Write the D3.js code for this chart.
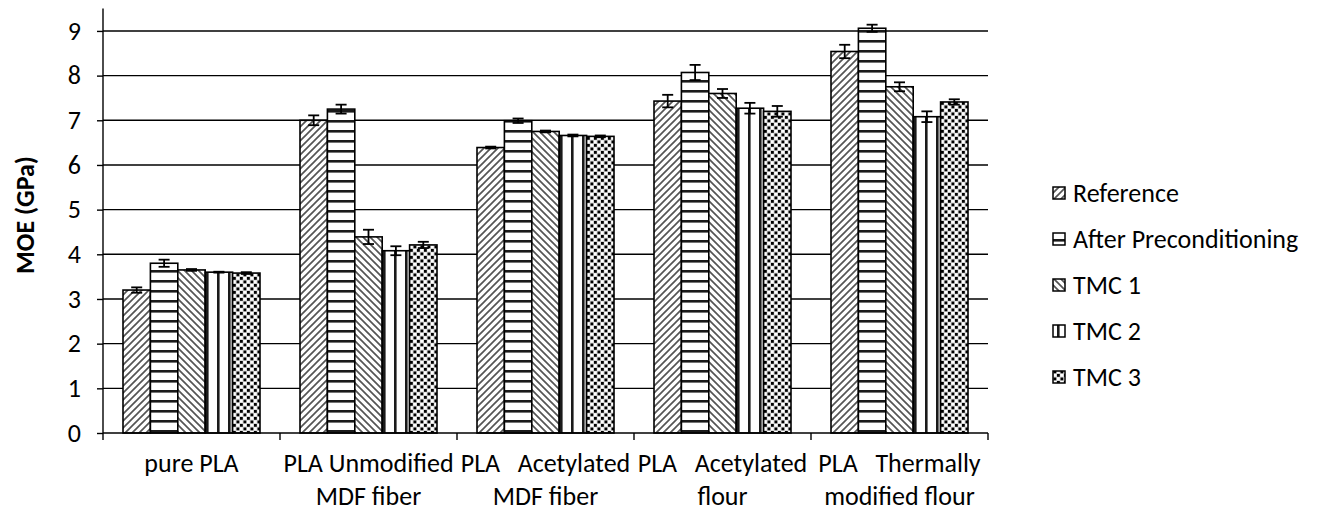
<!DOCTYPE html>
<html lang="en">
<head>
<meta charset="UTF-8" />
<title>MOE bar chart</title>
<script src="https://cdn.jsdelivr.net/npm/d3@7"></script>
<style>
  body { margin: 0; background: #fff; }
  text { font-family: Carlito, Calibri, Lato, sans-serif; fill: #000; }
</style>
</head>
<body>
<div id="chart"></div>
<script>
// chart values
var categories = ["pure PLA", "PLA Unmodified MDF fiber", "PLA Acetylated MDF fiber", "PLA Acetylated flour", "PLA Thermally modified flour"];
var categoryLines = [["pure PLA"], ["PLA Unmodified", "MDF fiber"], ["PLA   Acetylated", "MDF fiber"], ["PLA   Acetylated", "flour"], ["PLA   Thermally", "modified flour"]];
var seriesNames = ["Reference", "After Preconditioning", "TMC 1", "TMC 2", "TMC 3"];

var reference = [3.20, 7.00, 6.39, 7.43, 8.54];
var afterPre  = [3.80, 7.25, 6.99, 8.07, 9.06];
var tmc1      = [3.65, 4.39, 6.75, 7.60, 7.75];
var tmc2      = [3.60, 4.08, 6.66, 7.27, 7.08];
var tmc3      = [3.58, 4.21, 6.64, 7.20, 7.41];

var referenceErr = [0.06, 0.11, 0.02, 0.14, 0.15];
var afterPreErr  = [0.08, 0.10, 0.05, 0.17, 0.08];
var tmc1Err      = [0.02, 0.16, 0.02, 0.10, 0.10];
var tmc2Err      = [0.01, 0.10, 0.02, 0.12, 0.12];
var tmc3Err      = [0.02, 0.07, 0.02, 0.12, 0.06];

var yTicks = [0, 1, 2, 3, 4, 5, 6, 7, 8, 9];

var values = [reference, afterPre, tmc1, tmc2, tmc3];
var errors = [referenceErr, afterPreErr, tmc1Err, tmc2Err, tmc3Err];

var width = 1323, height = 512;
var plotLeft = 103, plotRight = 988, plotBottom = 433, plotTop = 8.6;
var fontSize = 26;

var svg = d3.select("#chart").append("svg")
  .attr("width", width).attr("height", height);

svg.append("rect").attr("width", width).attr("height", height).attr("fill", "#fff");

// hatch patterns
var defs = svg.append("defs");
function pattern(id, w, h) {
  var p = defs.append("pattern").attr("id", id)
    .attr("patternUnits", "userSpaceOnUse")
    .attr("width", w).attr("height", h);
  p.append("rect").attr("width", w).attr("height", h).attr("fill", "#fff");
  return p;
}
pattern("p0", 7, 7).append("path")
  .attr("d", "M0,7L7,0M-1,1L1,-1M6,8L8,6")
  .attr("stroke", "#555").attr("stroke-width", 1.7);
pattern("p1", 10, 10).append("rect")
  .attr("y", 0).attr("width", 10).attr("height", 2.6).attr("fill", "#1a1a1a");
pattern("p2", 7, 7).append("path")
  .attr("d", "M0,0L7,7M-1,6L1,8M6,-1L8,1")
  .attr("stroke", "#555").attr("stroke-width", 1.7);
pattern("p3", 11, 11).append("rect")
  .attr("x", 4).attr("width", 2.6).attr("height", 11).attr("fill", "#1a1a1a");
var p4 = pattern("p4", 7, 7);
p4.append("rect").attr("x", 0).attr("y", 0).attr("width", 7).attr("height", 7).attr("fill", "#d8d8d8");
p4.append("rect").attr("x", 0.5).attr("y", 0.5).attr("width", 2.8).attr("height", 2.8).attr("fill", "#000");
p4.append("rect").attr("x", 4).attr("y", 4).attr("width", 2.8).attr("height", 2.8).attr("fill", "#000");
p4.append("rect").attr("x", 4).attr("y", 0.5).attr("width", 2.5).attr("height", 2.5).attr("fill", "#fff");
p4.append("rect").attr("x", 0.5).attr("y", 4).attr("width", 2.5).attr("height", 2.5).attr("fill", "#fff");

var x0 = d3.scaleBand().domain(categories).range([plotLeft, plotRight]).padding(0);
var x1 = d3.scaleBand().domain(seriesNames).range([20, x0.bandwidth() - 20]).padding(0);
var y = d3.scaleLinear().domain([0, 9.5]).range([plotBottom, plotTop]);

// gridlines
svg.append("g").selectAll("line")
  .data(yTicks.filter(function(d) { return d > 0; }))
  .enter().append("line")
  .attr("x1", plotLeft).attr("x2", plotRight)
  .attr("y1", function(d) { return y(d); })
  .attr("y2", function(d) { return y(d); })
  .attr("stroke", "#000").attr("stroke-width", 1.4);

// bars
var groups = svg.append("g").selectAll("g")
  .data(categories).enter().append("g")
  .attr("transform", function(d) { return "translate(" + x0(d) + ",0)"; });

groups.each(function(cat, ci) {
  var g = d3.select(this);
  seriesNames.forEach(function(s, si) {
    var v = values[si][ci];
    g.append("rect")
      .attr("x", x1(s)).attr("width", x1.bandwidth())
      .attr("y", y(v)).attr("height", y(0) - y(v))
      .attr("fill", "url(#p" + si + ")")
      .attr("stroke", "#000").attr("stroke-width", 1.6);
  });
  seriesNames.forEach(function(s, si) {
    var v = values[si][ci], e = errors[si][ci];
    var cx = x1(s) + x1.bandwidth() / 2;
    var eb = g.append("g").attr("stroke", "#000").attr("stroke-width", 1.8);
    eb.append("line").attr("x1", cx).attr("x2", cx).attr("y1", y(v - e)).attr("y2", y(v + e));
    eb.append("line").attr("x1", cx - 5.5).attr("x2", cx + 5.5).attr("y1", y(v + e)).attr("y2", y(v + e));
    eb.append("line").attr("x1", cx - 5.5).attr("x2", cx + 5.5).attr("y1", y(v - e)).attr("y2", y(v - e));
  });
});

// y axis
var yAxis = d3.axisLeft(y).tickValues(yTicks).tickSize(6).tickPadding(16).tickFormat(d3.format("d"));
var gy = svg.append("g").attr("transform", "translate(" + plotLeft + ",0)").call(yAxis);
gy.select(".domain").attr("stroke", "#000").attr("stroke-width", 1.4).attr("d", "M0," + plotTop + "V" + plotBottom);
gy.selectAll(".tick line").attr("stroke", "#000").attr("stroke-width", 1.4);
gy.selectAll(".tick text").attr("font-size", fontSize).attr("font-family", null);

// x axis with boundary ticks
svg.append("line").attr("x1", plotLeft).attr("x2", plotRight).attr("y1", plotBottom).attr("y2", plotBottom)
  .attr("stroke", "#000").attr("stroke-width", 1.4);
var bounds = categories.map(function(c) { return x0(c); }).concat([plotRight]);
svg.append("g").selectAll("line").data(bounds).enter().append("line")
  .attr("x1", function(d) { return d; }).attr("x2", function(d) { return d; })
  .attr("y1", plotBottom).attr("y2", plotBottom + 7)
  .attr("stroke", "#000").attr("stroke-width", 1.4);

// category labels
categories.forEach(function(c, i) {
  var t = svg.append("text")
    .attr("text-anchor", "middle")
    .attr("font-size", fontSize)
    .style("white-space", "pre");
  categoryLines[i].forEach(function(line, li) {
    t.append("tspan")
      .attr("x", x0(c) + x0.bandwidth() / 2)
      .attr("y", 472 + li * 33)
      .text(line);
  });
});

// y title
svg.append("text")
  .attr("transform", "translate(34,215) rotate(-90)")
  .attr("text-anchor", "middle")
  .attr("font-size", fontSize)
  .attr("font-weight", "bold")
  .text("MOE (GPa)");

// legend
var legend = svg.append("g").selectAll("g").data(seriesNames).enter().append("g")
  .attr("transform", function(d, i) { return "translate(1053," + (193 + i * 46) + ")"; });
legend.append("rect")
  .attr("x", 0).attr("y", -6).attr("width", 12).attr("height", 12)
  .attr("fill", function(d, i) { return "url(#p" + i + ")"; })
  .attr("stroke", "#000").attr("stroke-width", 1.5);
legend.append("text")
  .attr("x", 20).attr("y", 9)
  .attr("font-size", fontSize)
  .text(function(d) { return d; });
</script>
</body>
</html>
